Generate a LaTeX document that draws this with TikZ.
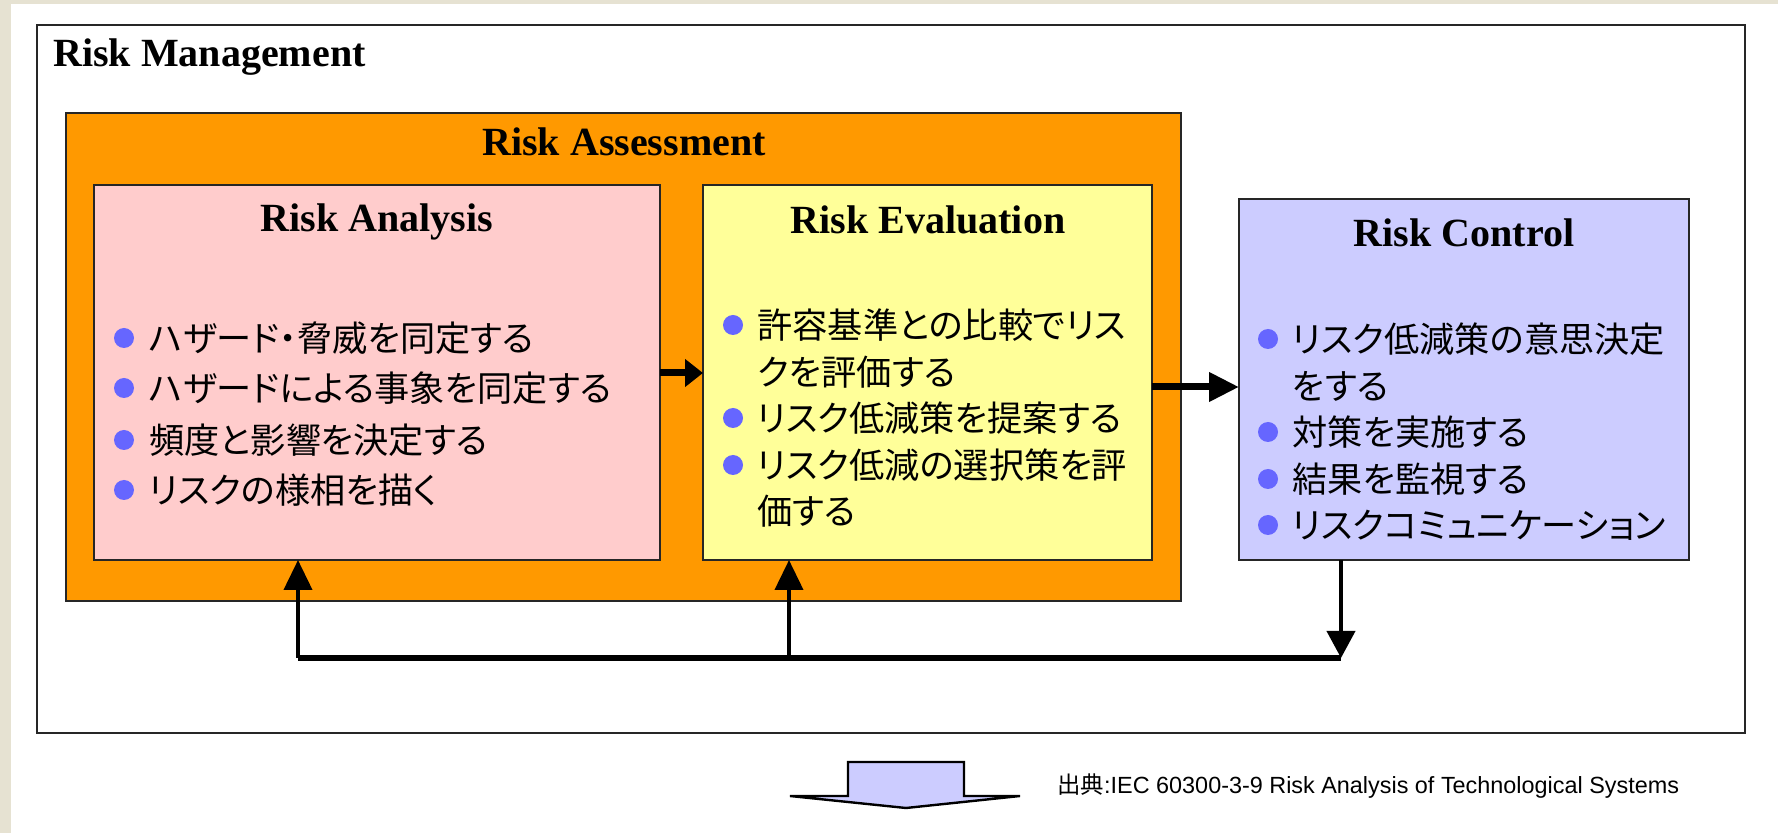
\documentclass[tikz,border=0pt]{standalone}
\usepackage{fontspec}
\setmainfont{Liberation Serif}
\newfontfamily\jp[RawFeature=+palt]{Noto Sans CJK JP}
\newfontfamily\arialf{Liberation Sans}
\usetikzlibrary{arrows.meta}
\definecolor{bgbeige}{HTML}{E6E2D2}
\definecolor{assessorange}{HTML}{FF9900}
\definecolor{anapink}{HTML}{FFCCCC}
\definecolor{evayellow}{HTML}{FFFF99}
\definecolor{ctlblue}{HTML}{CCCCFF}
\definecolor{bulblue}{HTML}{6666FF}
\tikzset{
  boxshape/.style={rectangle, draw=black!85, line width=1pt, inner sep=0pt, outer sep=0pt},
  titletext/.style={font=\fontsize{20pt}{24pt}\selectfont\bfseries, inner sep=0pt},
  itm/.style={anchor=west, font=\jp\fontsize{17.6pt}{20pt}\selectfont, inner sep=0pt},
  bul/.style={circle, fill=bulblue, minimum size=10pt, inner sep=0pt},
  conn/.style={line width=3.5pt, -{Triangle[length=9pt,width=13.5pt]}},
}
\begin{document}
\begin{tikzpicture}[x=0.5pt,y=-0.5pt]
\useasboundingbox (0,0) rectangle (1778,833);
\fill[bgbeige] (0,0) rectangle (1778,833);
\fill[white] (11,4) rectangle (1778,833);

% boxes
\node[boxshape, fill=white, minimum width=854pt, minimum height=354pt] (mgmt) at (891,379) {};
\node[boxshape, fill=assessorange, minimum width=557.5pt, minimum height=244pt] (assess) at (623.5,357) {};
\node[boxshape, fill=anapink, minimum width=283pt, minimum height=187.5pt] (ana) at (377,372.5) {};
\node[boxshape, fill=evayellow, minimum width=224.5pt, minimum height=187.5pt] (eva) at (927.5,372.5) {};
\node[boxshape, fill=ctlblue, minimum width=225pt, minimum height=180.5pt] (ctl) at (1464,379.5) {};

% titles
\node[titletext, anchor=west] (tmgmt) at (53,57) {Risk Management};
\node[titletext] (tassess) at (624,142) {Risk Assessment};
\node[titletext] (tana) at (377,222) {Risk Analysis};
\node[titletext] (teva) at (928,220) {Risk Evaluation};
\node[titletext] (tctl) at (1464,233) {Risk Control};

% Risk Analysis items
\node[bul] (ab1) at (124,338) {};
\node[itm] (a1) at (149,338) {ハザード・脅威を同定する};
\node[bul] (ab2) at (124,388) {};
\node[itm] (a2) at (149,388) {ハザードによる事象を同定する};
\node[bul] (ab3) at (124,440) {};
\node[itm] (a3) at (149,440) {頻度と影響を決定する};
\node[bul] (ab4) at (124,490) {};
\node[itm] (a4) at (149,490) {リスクの様相を描く};

% Risk Evaluation items
\node[bul] (eb1) at (733,325) {};
\node[itm] (e1) at (757,325) {許容基準との比較でリス};
\node[itm] (e1b) at (757,372) {クを評価する};
\node[bul] (eb2) at (733,418) {};
\node[itm] (e2) at (757,418) {リスク低減策を提案する};
\node[bul] (eb3) at (733,465) {};
\node[itm] (e3) at (757,465) {リスク低減の選択策を評};
\node[itm] (e3b) at (757,511) {価する};

% Risk Control items
\node[bul] (cb1) at (1268,339) {};
\node[itm] (c1) at (1292,339) {リスク低減策の意思決定};
\node[itm] (c1b) at (1292,386) {をする};
\node[bul] (cb2) at (1268,432) {};
\node[itm] (c2) at (1292,432) {対策を実施する};
\node[bul] (cb3) at (1268,479) {};
\node[itm] (c3) at (1292,479) {結果を監視する};
\node[bul] (cb4) at (1268,525) {};
\node[itm] (c4) at (1292,525) {リスクコミュニケーション};

% forward connectors
\draw[conn] (ana.east |- 0,373) -- (eva.west |- 0,373);
\draw[line width=3.5pt, -{Triangle[length=15pt,width=14pt]}] (eva.east |- 0,387) -- (ctl.west |- 0,387);

% feedback loop
\coordinate (fbL) at (298,658);
\coordinate (fbM) at (789,658);
\coordinate (fbR) at (1341,658);
\draw[line width=2pt, -{Triangle[length=13.5pt,width=14pt]}] (ctl.south -| fbR) -- (fbR);
\draw[line width=3.2pt] (fbL) -- (fbR);
\draw[line width=2pt, -{Triangle[length=15pt,width=14pt]}] (fbL) -- (ana.south -| fbL);
\draw[line width=2pt, -{Triangle[length=15pt,width=14pt]}] (fbM) -- (eva.south -| fbM);

% block arrow
\filldraw[fill=ctlblue, draw=black, line width=1.2pt, line join=miter]
  (848,762) -- (964,762) -- (964,796) -- (1020,796) -- (906,808) -- (790,796) -- (848,796) -- cycle;

% source
\node[anchor=west, inner sep=0pt, font=\arialf\fontsize{11.7pt}{14pt}\selectfont] (src) at (1057,786) {{\jp 出典}:IEC 60300-3-9 Risk Analysis of Technological Systems};
\end{tikzpicture}
\end{document}
